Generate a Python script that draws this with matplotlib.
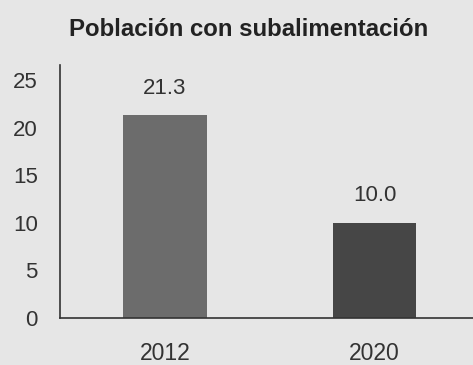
import matplotlib
matplotlib.use("Agg")
import matplotlib.pyplot as plt

years = ["2012", "2020"]
values = [21.3, 10.0]
labels = ["21.3", "10.0"]
bar_colors = ["#6c6c6c", "#464646"]

plt.rcParams['font.family'] = ['Liberation Sans', 'DejaVu Sans']

fig = plt.figure(figsize=(4.73, 3.65), dpi=100)
fig.patch.set_facecolor("#e6e6e6")
ax = fig.add_axes([0.127, 0.129, 0.873, 0.693])
ax.set_facecolor("#e6e6e6")

x = range(len(years))
ax.bar(x, values, width=0.4, color=bar_colors)
for xi, v, lab in zip(x, values, labels):
    ax.annotate(lab, (xi, v), xytext=(0, 12), textcoords="offset points",
                ha="center", va="bottom", fontsize=16, color="#333333")

ax.set_xlim(-0.5, 1.47)
ax.set_ylim(0, 26.6)
ax.set_yticks([0, 5, 10, 15, 20, 25])
ax.set_xticks(list(x))
ax.set_xticklabels(years)
ax.tick_params(axis="y", length=0, pad=16, labelsize=16, labelcolor="#333333")
ax.tick_params(axis="x", length=0, pad=17, labelsize=16.5, labelcolor="#333333")
for s in ["top", "right"]:
    ax.spines[s].set_visible(False)
for s in ["left", "bottom"]:
    ax.spines[s].set_color("#333333")
    ax.spines[s].set_linewidth(1.2)

fig.text(0.526, 0.918, "Población con subalimentación", ha="center", va="center",
         fontsize=17.3, fontweight="bold", color="#222222")

fig.savefig("out.png", dpi=100, facecolor=fig.get_facecolor())
